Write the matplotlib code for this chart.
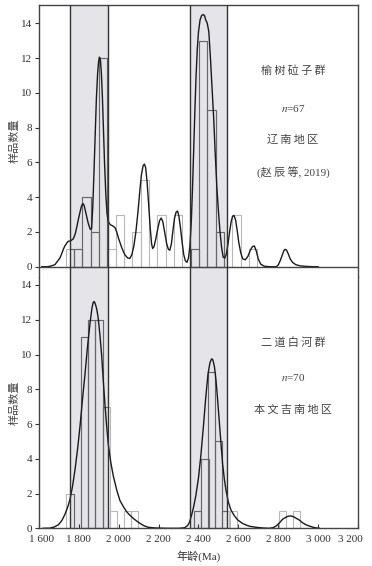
import matplotlib
matplotlib.use('Agg')
import matplotlib.pyplot as plt
import matplotlib.transforms as mtransforms

plt.rcParams['font.family'] = ['Liberation Serif', 'Noto Sans CJK SC', 'DejaVu Sans']
plt.rcParams['mathtext.fontset'] = 'stix'

# histogram bars (age centre, count)
top_ages = [1755, 1797, 1838, 1880, 1922, 1964, 2006, 2089, 2131, 2214, 2298,
            2381, 2423, 2465, 2507, 2590, 2674]
top_counts = [1, 1, 4, 2, 12, 1, 3, 2, 5, 3, 3, 1, 13, 9, 2, 3, 1]
bot_ages = [1755, 1830, 1865, 1901, 1937, 1974, 2043, 2080, 2395, 2433, 2467,
            2502, 2537, 2575, 2820, 2891]
bot_counts = [2, 11, 12, 12, 7, 1, 1, 1, 1, 4, 9, 5, 1, 1, 1, 1]

# probability density curves
top_curve_age = [1614, 1640, 1660, 1680, 1705, 1714, 1722, 1730, 1745, 1760, 1772, 1782,
                 1790, 1797, 1805, 1812, 1818, 1822, 1827, 1835, 1847, 1857, 1864,
                 1870, 1876, 1882, 1888, 1894, 1899, 1903, 1906, 1909, 1913, 1918,
                 1923, 1929, 1935, 1941, 1946, 1952, 1960, 1970, 1981, 1990, 2000,
                 2015, 2030, 2045, 2056, 2066, 2076, 2086, 2096, 2106, 2114, 2122,
                 2129, 2135, 2142, 2150, 2158, 2165, 2170, 2177, 2186, 2196, 2205,
                 2213, 2221, 2230, 2240, 2249, 2256, 2264, 2272, 2280, 2288, 2295,
                 2302, 2310, 2318, 2326, 2334, 2342, 2350, 2357, 2364, 2370, 2376,
                 2382, 2388, 2394, 2400, 2408, 2416, 2424, 2430, 2436, 2444, 2452,
                 2460, 2468, 2476, 2484, 2492, 2500, 2508, 2516, 2524, 2532, 2540,
                 2548, 2556, 2564, 2571, 2578, 2586, 2594, 2602, 2612, 2622, 2635,
                 2648, 2660, 2670, 2680, 2690, 2700, 2712, 2730, 2760, 2790, 2800,
                 2810, 2818, 2826, 2831, 2836, 2842, 2850, 2860, 2872, 2888, 2910,
                 2940, 2980, 3000]
top_curve_val = [0.0, 0.0, 0.04, 0.12, 0.5, 0.75, 1.0, 1.2, 1.45, 1.5, 1.6, 1.9,
                 2.3, 2.7, 3.1, 3.45, 3.6, 3.62, 3.5, 3.1, 2.5, 2.15, 2.2,
                 3.5, 5.5, 7.7, 9.7, 11.1, 11.8, 12.05, 12.0, 11.8, 11.1, 9.8,
                 8.0, 5.9, 4.2, 3.1, 2.7, 2.5, 2.4, 2.35, 2.25, 2.0, 1.6,
                 1.1, 0.7, 0.5, 0.48, 0.7, 1.2, 2.0, 3.1, 4.4, 5.3, 5.8,
                 5.9, 5.7, 4.9, 3.6, 2.2, 1.3, 1.05, 1.15, 1.6, 2.2, 2.65,
                 2.8, 2.6, 2.0, 1.35, 1.0, 0.95, 1.3, 2.1, 2.8, 3.15, 3.2,
                 2.9, 2.2, 1.4, 0.7, 0.35, 0.25, 0.5, 1.2, 2.6, 4.5, 6.8,
                 9.0, 11.0, 12.5, 13.5, 14.2, 14.45, 14.5, 14.45, 14.2, 14.0, 13.5,
                 12.0, 10.3, 8.6, 6.5, 4.6, 3.2, 2.0, 1.1, 0.55, 0.5, 0.75,
                 1.3, 2.0, 2.6, 2.9, 2.95, 2.7, 2.1, 1.4, 0.8, 0.45, 0.4,
                 0.6, 0.95, 1.15, 1.2, 0.9, 0.45, 0.15, 0.03, 0.0, 0.0, 0.1,
                 0.35, 0.6, 0.85, 0.97, 1.0, 0.95, 0.75, 0.45, 0.25, 0.12, 0.05,
                 0.02, 0.0, 0.0]

bot_curve_age = [1620, 1655, 1675, 1697, 1715, 1730, 1745, 1755, 1768, 1781, 1794,
                 1806, 1818, 1831, 1843, 1856, 1866, 1872, 1877, 1883, 1890, 1897,
                 1905, 1914, 1922, 1931, 1940, 1948, 1960, 1973, 1990, 2006, 2023,
                 2040, 2056, 2073, 2090, 2107, 2128, 2148, 2180, 2240, 2300, 2330,
                 2345, 2355, 2365, 2375, 2387, 2400, 2412, 2425, 2437, 2448, 2458,
                 2466, 2472, 2480, 2488, 2496, 2504, 2512, 2521, 2530, 2538, 2550,
                 2563, 2580, 2597, 2618, 2638, 2660, 2688, 2720, 2755, 2775, 2789,
                 2805, 2822, 2840, 2852, 2864, 2876, 2890, 2905, 2922, 2940, 2956,
                 2975, 2990, 3006]
bot_curve_val = [0.0, 0.01, 0.07, 0.2, 0.45, 0.8, 1.25, 1.65, 2.4, 3.4, 4.6,
                 5.9, 7.4, 8.9, 10.4, 11.8, 12.7, 13.0, 13.05, 12.9, 12.6, 12.1,
                 11.2, 10.0, 8.6, 7.1, 5.8, 4.8, 3.8, 3.0, 2.2, 1.6, 1.25,
                 0.95, 0.75, 0.57, 0.42, 0.28, 0.14, 0.06, 0.02, 0.0, 0.0, 0.03,
                 0.15, 0.35, 0.75, 1.2, 1.9, 2.9, 4.2, 5.9, 7.6, 8.9, 9.55,
                 9.75, 9.7, 9.3, 8.5, 7.4, 6.2, 5.0, 3.7, 2.8, 2.2, 1.5,
                 1.05, 0.72, 0.48, 0.3, 0.19, 0.11, 0.06, 0.02, 0.0, 0.04, 0.13,
                 0.3, 0.52, 0.65, 0.7, 0.71, 0.67, 0.58, 0.48, 0.32, 0.2, 0.13,
                 0.06, 0.02, 0.0]

# age windows shaded in both panels
windows = [(1755, 1945), (2357, 2545)]

xticks = [1600, 1800, 2000, 2200, 2400, 2600, 2800, 3000, 3200]
xtick_labels = ['1 600', '1 800', '2 000', '2 200', '2 400', '2 600', '2 800', '3 000', '3 200']
yticks = [0, 2, 4, 6, 8, 10, 12, 14]

top_texts = ['榆\u2009树\u2009砬\u2009子\u2009群', '$n$=67', '辽\u2009南\u2009地\u2009区', '(赵\u2009辰\u2009等, 2019)']
bot_texts = ['二\u2009道\u2009白\u2009河\u2009群', '$n$=70', '本\u2009文\u2009吉\u2009南\u2009地\u2009区']

fig = plt.figure(figsize=(3.72, 5.66), dpi=100)
ax1 = fig.add_axes([0.1048, 0.5106, 0.8575, 0.4806])
ax2 = fig.add_axes([0.1048, 0.0666, 0.8575, 0.4440])

spine_col = '#444444'
box_face = '#e4e4e9'
curve_col = '#1a1a1a'


def draw_panel(ax, ages, counts, c_age, c_val, width):
    for lo, hi in windows:
        ax.axvspan(lo, hi, facecolor=box_face, edgecolor='none', zorder=0)
        ax.axvline(lo, color='#333333', lw=1.0, zorder=4)
        ax.axvline(hi, color='#333333', lw=1.0, zorder=4)
    ax.bar(ages, counts, width=width, facecolor='none', edgecolor='#b8b8b8',
           linewidth=0.8, zorder=2)
    # darker outlines where the bars sit inside the shaded windows
    for lo, hi in windows:
        bars = ax.bar(ages, counts, width=width, facecolor='none', edgecolor='#666666',
                      linewidth=0.8, zorder=2)
        clip = plt.Rectangle((lo, -1), hi - lo, 20, transform=ax.transData)
        for b in bars:
            b.set_clip_path(clip)
    ax.plot(c_age, c_val, color=curve_col, lw=1.0, zorder=3)
    ax.set_xlim(1600, 3200)
    ax.set_yticks(yticks)
    ax.tick_params(axis='y', direction='out', length=3, width=0.8, pad=2,
                   labelsize=8, colors='#333333')
    for s in ax.spines.values():
        s.set_color(spine_col)
        s.set_linewidth(1.0)
    ax.set_ylabel('样品数量', fontsize=8, color='#444444')
    ax.yaxis.set_label_coords(-0.062, 0.5)


draw_panel(ax1, top_ages, top_counts, top_curve_age, top_curve_val, 41.75)
draw_panel(ax2, bot_ages, bot_counts, bot_curve_age, bot_curve_val, 36.5)

ax1.set_ylim(-0.59, 15.05)
ax1.spines['bottom'].set_visible(False)
ax1.axhline(0, color=spine_col, lw=1.0, zorder=3)
ax1.set_xticks([])

ax2.set_ylim(0, 14.46)
ax2.spines['top'].set_visible(False)
ax2.set_xticks(xticks)
ax2.set_xticklabels(xtick_labels)
ax2.tick_params(axis='x', direction='in', length=3, width=0.8, pad=5,
                labelsize=8, colors='#333333')
ax2.set_xlabel('年龄(Ma)', fontsize=8, color='#333333')
ax2.xaxis.set_label_coords(0.5, -0.088)

labels = ax2.get_xticklabels()
labels[0].set_transform(labels[0].get_transform() +
                        mtransforms.ScaledTranslation(3 / 100, 0, fig.dpi_scale_trans))
labels[-1].set_transform(labels[-1].get_transform() +
                         mtransforms.ScaledTranslation(-8 / 100, 0, fig.dpi_scale_trans))

for txt, y in zip(top_texts, [11.3, 9.07, 7.29, 5.39]):
    ax1.text(2874, y, txt, ha='center', va='center', fontsize=8, color='#444444')
for txt, y in zip(bot_texts, [10.72, 8.7, 6.8]):
    ax2.text(2874, y, txt, ha='center', va='center', fontsize=8, color='#444444')

fig.savefig('out.png', dpi=100)
